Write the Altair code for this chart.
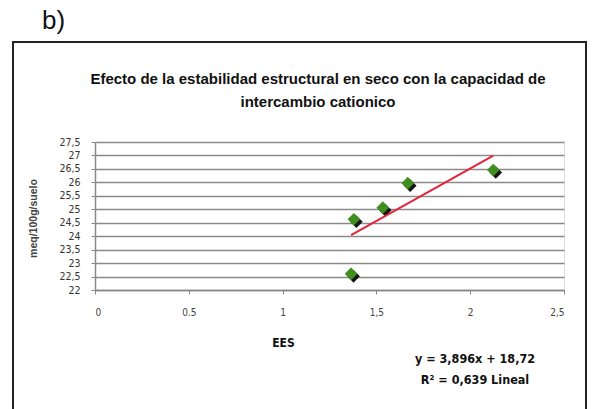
import altair as alt
import pandas as pd

# Measured samples: dry structural stability (EES) vs cation exchange capacity
ees = [1.365, 1.38, 1.534, 1.667, 2.123]
cic = [22.6, 24.63, 25.06, 25.97, 26.46]

# Fitted linear trend as reported: y = 3,896x + 18,72
slope = 3.896
intercept = 18.72
trend_x = [min(ees), max(ees)]

title_lines = [
    "Efecto de la estabilidad estructural en  seco con la capacidad de",
    "intercambio cationico",
]
equation_lines = ["y = 3,896x + 18,72", "R² = 0,639 Lineal"]
x_ticks = [0, 0.5, 1, 1.5, 2, 2.5]
y_ticks = [22, 22.5, 23, 23.5, 24, 24.5, 25, 25.5, 26, 26.5, 27, 27.5]

NARROW = "Liberation Sans Narrow, DejaVu Sans Condensed, Arial Narrow, Liberation Sans, sans-serif"
SANS = "Liberation Sans, Arial, sans-serif"
W, H = 469, 148

points = pd.DataFrame({"x": ees, "y": cic})
trend = pd.DataFrame({"x": trend_x})

x_scale = alt.Scale(domain=[0, 2.5], nice=False, zero=False)
y_scale = alt.Scale(domain=[22, 27.5], nice=False, zero=False)

x_axis = alt.Axis(
    values=x_ticks,
    labelExpr="datum.value == 0.5 ? '0.5' : replace(format(datum.value, '.1~f'), '.', ',')",
    title="EES",
    titleFont=NARROW, titleFontSize=12, titleFontWeight="bold", titleColor="#111",
    titleX=188, titleY=52, titleAnchor="start", titleAlign="center", titleBaseline="middle",
    labelFont=NARROW, labelFontSize=10, labelColor="#444", labelPadding=13,
    labelOverlap=False,
    tickColor="#888", tickSize=4, domainColor="#888", domainWidth=1.5,
    grid=False,
)
y_axis = alt.Axis(
    values=y_ticks,
    labelExpr="replace(format(datum.value, '.1~f'), '.', ',')",
    title="meq/100g/suelo",
    titleFont=SANS, titleFontSize=10.5, titleFontWeight="bold", titleColor="#444",
    titleAngle=-90, titleX=-62, titleY=H / 2 + 2, titleAnchor="start",
    titleAlign="center", titleBaseline="middle",
    labelFont=NARROW, labelFontSize=10.5, labelColor="#333", labelPadding=11,
    labelOverlap=False, labelBound=False,
    tickColor="#888", tickSize=4, domainColor="#888", domainWidth=1.5,
    grid=True, gridColor="#8a8a8a", gridWidth=1.5,
)

X = alt.X("x:Q", scale=x_scale, axis=x_axis)
Y = alt.Y("y:Q", scale=y_scale, axis=y_axis)

one = pd.DataFrame({"k": [0]})


def text_at(label, x, y, size, weight="normal", font=NARROW, align="center"):
    """A single line of text placed in pixel space around the plot area."""
    return alt.Chart(pd.DataFrame({"t": [label]})).mark_text(
        font=font, fontSize=size, fontWeight=weight, color="#111",
        align=align, baseline="middle", clip=False,
    ).encode(x=alt.value(x), y=alt.value(y), text="t:N")


# Outer frame drawn around the whole figure
frame = alt.Chart(one).mark_rect(
    fill="transparent", stroke="#222", strokeWidth=2, clip=False
).encode(
    x=alt.value(-82), x2=alt.value(491), y=alt.value(-100), y2=alt.value(290)
)

panel_label = text_at("b)", -53, -121, 26, font=SANS, align="left")

title_marks = [
    text_at(title_lines[0], 223, -63, 15, weight="bold", font=SANS),
    text_at(title_lines[1], 223, -40, 15, weight="bold", font=SANS),
]

shadow = alt.Chart(points).mark_point(
    shape="diamond", size=160, filled=True, color="#151515", opacity=1,
    xOffset=2.5, yOffset=2.5
).encode(x=X, y=Y)
diamonds = alt.Chart(points).mark_point(
    shape="diamond", size=160, filled=True, color="#3f8e1f", opacity=1
).encode(x=X, y=Y)

trend_line = alt.Chart(trend).transform_calculate(
    y=f"{slope} * datum.x + {intercept}"
).mark_line(color="#e3243b", strokeWidth=2).encode(x=X, y=Y)

equation = [
    text_at(equation_lines[0], 380, 217, 12.5, weight="bold"),
    text_at(equation_lines[1], 380, 238, 12.5, weight="bold"),
]

chart = alt.layer(
    shadow, trend_line, diamonds, frame, panel_label, *title_marks, *equation
).properties(
    width=W,
    height=H,
    autosize=alt.AutoSizeParams(type="none"),
    padding={"left": 95, "top": 142, "right": 28, "bottom": 119},
).configure_view(
    stroke="#888", strokeWidth=1.5
).configure(background="white")

chart.save("out.html", embed_options={"renderer": "svg", "actions": False})
